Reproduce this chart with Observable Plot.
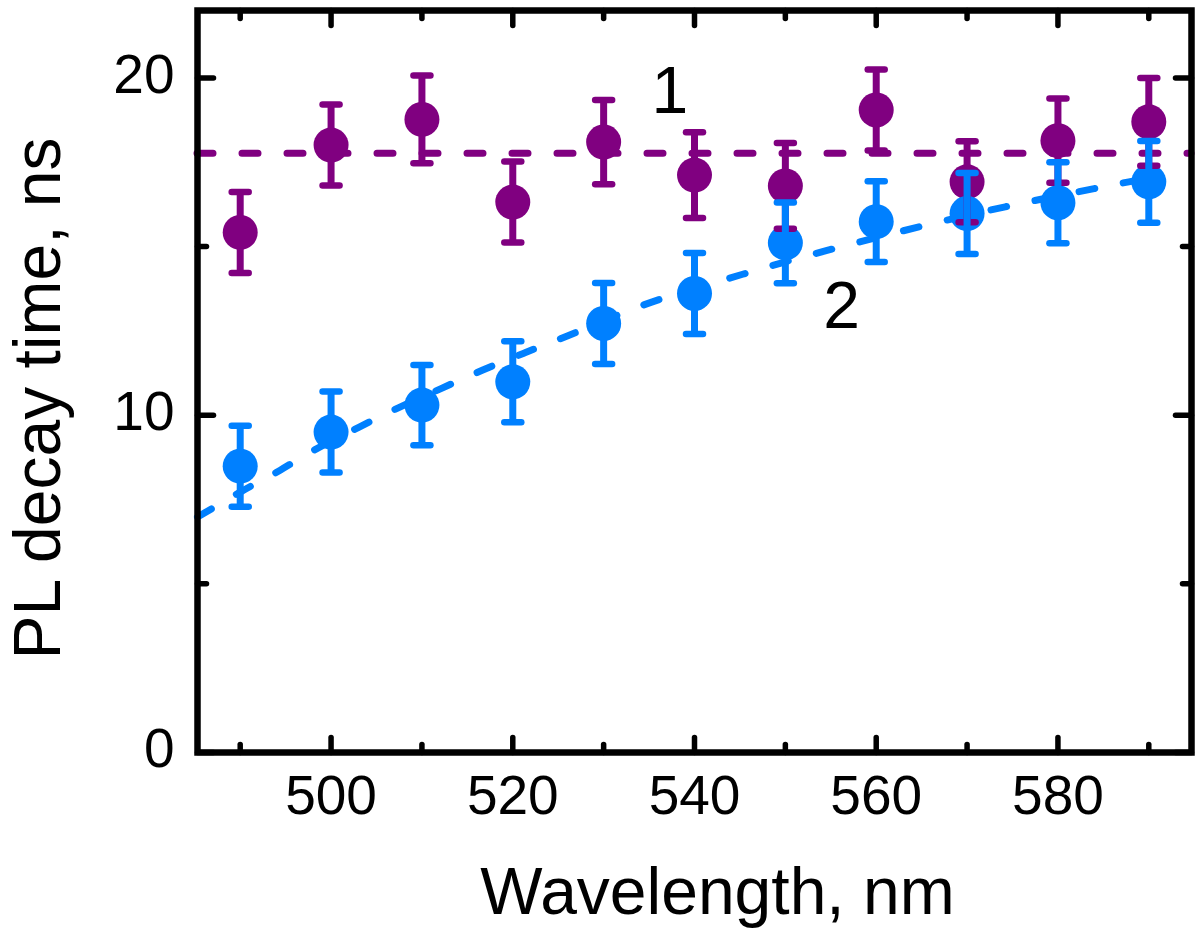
<!DOCTYPE html>
<html>
<head>
<meta charset="utf-8">
<script src="https://cdn.jsdelivr.net/npm/d3@7"></script>
<script src="https://cdn.jsdelivr.net/npm/@observablehq/plot@0.6"></script>
<style>
  html, body { margin: 0; padding: 0; background: #fff; }
</style>
</head>
<body>
<div id="chart"></div>
<script>
// ---- Data ----
const wavelengths = [490, 500, 510, 520, 530, 540, 550, 560, 570, 580, 590];
const tau1 = [15.42, 18.01, 18.77, 16.32, 18.10, 17.12, 16.80, 19.05, 16.92, 18.14, 18.70];
const err1 = [1.2, 1.2, 1.3, 1.2, 1.25, 1.27, 1.27, 1.2, 1.2, 1.25, 1.3];
const tau2 = [8.49, 9.50, 10.30, 10.99, 12.72, 13.61, 15.11, 15.74, 15.98, 16.30, 16.92];
const err2 = [1.2, 1.2, 1.19, 1.2, 1.2, 1.2, 1.2, 1.2, 1.2, 1.2, 1.21];
const fit1Level = 17.77;
const fit2X = [485.3, 490, 494.4, 497.5, 503.1, 507.4, 512.1, 516.7, 521.4, 526, 534.3, 545.3, 550, 554.8, 574.2, 584, 587.8, 590.5];
const fit2Y = [6.98, 7.72, 8.37, 8.87, 9.65, 10.22, 10.79, 11.34, 11.86, 12.35, 13.26, 14.18, 14.55, 14.9, 16.18, 16.72, 16.92, 17.05];
const labelText = ["1", "2"];
const labelX = [537.3, 556.2];
const labelY = [19.59, 13.2];
const xMajorTicks = [500, 520, 540, 560, 580];
const xMinorTicks = [490, 510, 530, 550, 570, 590];
const yMajorTicks = [0, 10, 20];
const yMinorTicks = [5, 15];
const xTitle = "Wavelength, nm";
const yTitle = "PL decay time, ns";

const purple = "#800080";
const blue = "#0080FF";

const s1 = wavelengths.map((w, i) => ({w, v: tau1[i], e: err1[i]}));
const s2 = wavelengths.map((w, i) => ({w, v: tau2[i], e: err2[i]}));
const fit2 = fit2X.map((x, i) => ({x, y: fit2Y[i]}));
const labels = labelText.map((t, i) => ({t, x: labelX[i], y: labelY[i]}));

// custom vector shapes
const shapeUp = {draw(c, l) { c.moveTo(0, 0); c.lineTo(0, -l); }};
const shapeDown = {draw(c, l) { c.moveTo(0, 0); c.lineTo(0, l); }};
const shapeRight = {draw(c, l) { c.moveTo(0, 0); c.lineTo(l, 0); }};
const shapeLeft = {draw(c, l) { c.moveTo(0, 0); c.lineTo(-l, 0); }};
const shapeCap = {draw(c, l) { c.moveTo(-l / 2, 0); c.lineTo(l / 2, 0); }};

const tickStyle = {stroke: "black", strokeWidth: 5.5, strokeLinecap: "round", anchor: "start"};
const dash = {strokeWidth: 7, strokeDasharray: "16,29", strokeLinecap: "round"};

function errMarks(data, color) {
  return [
    Plot.ruleX(data, {x: "w", y1: d => d.v - d.e, y2: d => d.v + d.e, stroke: color, strokeWidth: 7}),
    Plot.vector(data, {x: "w", y: d => d.v + d.e, length: 17, shape: shapeCap, anchor: "start", stroke: color, strokeWidth: 6.5, strokeLinecap: "round"}),
    Plot.vector(data, {x: "w", y: d => d.v - d.e, length: 17, shape: shapeCap, anchor: "start", stroke: color, strokeWidth: 6.5, strokeLinecap: "round"})
  ];
}

const chart = Plot.plot({
  width: 1200,
  height: 933,
  marginLeft: 197,
  marginRight: 9,
  marginTop: 10,
  marginBottom: 181,
  style: {fontFamily: "'Liberation Sans', Arial, sans-serif", fontSize: "55px", color: "black", background: "white"},
  x: {domain: [485.3, 594.7]},
  y: {domain: [0, 22]},
  marks: [
    Plot.ruleY([fit1Level], {stroke: purple, ...dash}),
    Plot.line(fit2, {x: "x", y: "y", stroke: blue, curve: "monotone-x", ...dash}),
    Plot.dot(s1, {x: "w", y: "v", r: 17.5, fill: purple, stroke: "none"}),
    Plot.dot(s2, {x: "w", y: "v", r: 17.5, fill: blue, stroke: "none"}),
    ...errMarks(s1, purple),
    ...errMarks(s2, blue),
    Plot.text(labels, {x: "x", y: "y", text: "t", fontSize: 66, fill: "black", lineAnchor: "middle", textAnchor: "middle"}),
    Plot.vector(xMajorTicks, {x: d => d, frameAnchor: "bottom", length: 15, shape: shapeUp, ...tickStyle}),
    Plot.vector(xMinorTicks, {x: d => d, frameAnchor: "bottom", length: 8, shape: shapeUp, ...tickStyle}),
    Plot.vector(xMajorTicks, {x: d => d, frameAnchor: "top", length: 15, shape: shapeDown, ...tickStyle}),
    Plot.vector(xMinorTicks, {x: d => d, frameAnchor: "top", length: 8, shape: shapeDown, ...tickStyle}),
    Plot.vector(yMajorTicks, {y: d => d, frameAnchor: "left", length: 16, shape: shapeRight, ...tickStyle}),
    Plot.vector(yMinorTicks, {y: d => d, frameAnchor: "left", length: 9, shape: shapeRight, ...tickStyle}),
    Plot.vector(yMajorTicks, {y: d => d, frameAnchor: "right", length: 16, shape: shapeLeft, ...tickStyle}),
    Plot.vector(yMinorTicks, {y: d => d, frameAnchor: "right", length: 9, shape: shapeLeft, ...tickStyle}),
    Plot.frame({stroke: "black", strokeWidth: 6.5}),
    Plot.axisX({ticks: xMajorTicks, tickSize: 0, tickPadding: 22, label: null, tickFormat: d => String(d)}),
    Plot.axisY({ticks: yMajorTicks, tickSize: 0, tickPadding: 23, label: null, dy: -3, tickFormat: d => String(d)}),
    Plot.text([xTitle], {frameAnchor: "bottom", dy: 140, dx: 23, fontSize: 66, lineAnchor: "middle", textAnchor: "middle", fill: "black"}),
    Plot.text([yTitle], {frameAnchor: "left", rotate: -90, dx: -159, dy: 17, fontSize: 66, lineAnchor: "middle", textAnchor: "middle", fill: "black"})
  ]
});
document.getElementById("chart").appendChild(chart);
</script>
</body>
</html>
